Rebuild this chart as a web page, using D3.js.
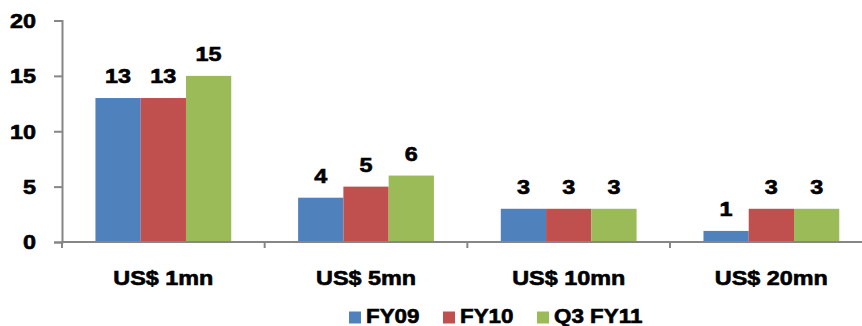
<!DOCTYPE html>
<html>
<head>
<meta charset="utf-8">
<script src="https://cdn.jsdelivr.net/npm/d3@7"></script>
<style>
  html, body { margin: 0; padding: 0; background: #fff; }
  svg { display: block; }
  text { font-family: "Liberation Sans", Arial, sans-serif; font-weight: bold; fill: #000; stroke: #000; stroke-width: 0.6px; }
</style>
</head>
<body>
<svg id="chart" width="862" height="326"></svg>
<script>
// Ticket-size buckets and the deal counts for each period
const categories = ["US$ 1mn", "US$ 5mn", "US$ 10mn", "US$ 20mn"];
const seriesNames = ["FY09", "FY10", "Q3 FY11"];
const fy09 = [13, 4, 3, 1];
const fy10 = [13, 5, 3, 3];
const q3fy11 = [15, 6, 3, 3];
const yTicks = [0, 5, 10, 15, 20];
const colors = ["#4F81BD", "#C0504D", "#9BBB59"];

const series = [fy09, fy10, q3fy11];
const stretch = 1.17; // wide lettering

const svg = d3.select("#chart");

const y = d3.scaleLinear().domain([0, 20]).range([242, 20.5]);
const x0 = d3.scaleBand().domain(categories).range([62, 872.7])
  .paddingInner(0.33).paddingOuter(0.165);
const x1 = d3.scaleBand().domain(seriesNames).range([0, x0.bandwidth()]);

const axisColor = "#868686";

// Bars with value labels
categories.forEach((cat, ci) => {
  const g = svg.append("g").attr("transform", `translate(${x0(cat)},0)`);
  seriesNames.forEach((name, si) => {
    const v = series[si][ci];
    g.append("rect")
      .attr("x", x1(name))
      .attr("y", y(v))
      .attr("width", x1.bandwidth())
      .attr("height", y(0) - y(v))
      .attr("fill", colors[si]);
    g.append("text")
      .attr("transform", `translate(${x1(name) + x1.bandwidth() / 2},${y(v) - 15}) scale(${stretch},1)`)
      .attr("text-anchor", "middle")
      .style("font-size", "20px")
      .text(v);
  });
});

// Y axis
const yAxis = d3.axisLeft(y).tickValues(yTicks).tickSize(8).tickPadding(0).tickFormat(d3.format("d"));
const gy = svg.append("g").attr("transform", "translate(62,0)").call(yAxis);
gy.select(".domain").attr("stroke", axisColor).attr("stroke-width", 2);
gy.selectAll(".tick line").attr("stroke", axisColor).attr("stroke-width", 2);
gy.selectAll(".tick text")
  .attr("x", null).attr("dy", null)
  .attr("transform", `translate(-26,0) scale(${stretch},1)`)
  .attr("dominant-baseline", "central")
  .style("font-size", "20px")
  .style("font-family", "'Liberation Sans', Arial, sans-serif")
  .style("font-weight", "bold")
  .attr("fill", "#000");

// X axis baseline with category divider ticks
const gx = svg.append("g");
gx.append("line")
  .attr("x1", 61).attr("x2", 862)
  .attr("y1", y(0)).attr("y2", y(0))
  .attr("stroke", axisColor).attr("stroke-width", 2);
const dividers = categories.map(c => x0(c) - x0.step() * x0.paddingOuter());
gx.selectAll("line.div").data(dividers).enter().append("line")
  .attr("class", "div")
  .attr("x1", d => d).attr("x2", d => d)
  .attr("y1", y(0)).attr("y2", y(0) + 6)
  .attr("stroke", axisColor).attr("stroke-width", 2);

// Category labels
svg.selectAll("text.cat").data(categories).enter().append("text")
  .attr("class", "cat")
  .attr("transform", d => `translate(${x0(d) + x0.bandwidth() / 2},285) scale(${stretch},1)`)
  .attr("text-anchor", "middle")
  .style("font-size", "20px")
  .text(d => d);

// Legend
const legend = svg.append("g").attr("transform", "translate(349,0)");
seriesNames.forEach((name, i) => {
  const lg = legend.append("g").attr("transform", `translate(${i * 94},0)`);
  lg.append("rect").attr("x", 0).attr("y", 311.5).attr("width", 12).attr("height", 12).attr("fill", colors[i]);
  lg.append("text")
    .attr("transform", `translate(17,323.3) scale(1.12,1)`)
    .style("font-size", "20px")
    .text(name);
});
</script>
</body>
</html>
